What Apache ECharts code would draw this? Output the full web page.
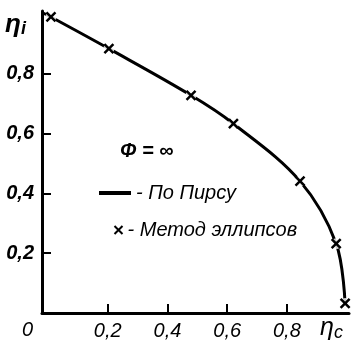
<!DOCTYPE html>
<html>
<head>
<meta charset="utf-8">
<script src="https://cdn.jsdelivr.net/npm/echarts@6/dist/echarts.min.js"></script>
<style>
  html, body { margin: 0; padding: 0; background: #fff; }
  #chart { width: 352px; height: 342px; }
</style>
</head>
<body>
<div id="chart"></div>
<script>
// Pearson curve (line) and ellipse method points (crosses)
const curveX = [-0.02, 0.01, 0.204, 0.479, 0.621, 0.844, 0.965, 0.995];
const curveY = [1.005, 0.99, 0.884, 0.728, 0.633, 0.441, 0.232, 0.03];
const markX = [0.01, 0.204, 0.479, 0.621, 0.844, 0.965, 0.995];
const markY = [0.99, 0.884, 0.728, 0.633, 0.441, 0.232, 0.032];
const tickValues = [0.2, 0.4, 0.6, 0.8];

const crossPath = "path://M0,0L10,10M10,0L0,10";
const fontFam = "Liberation Sans";

const chart = echarts.init(document.getElementById("chart"));

const fmt = (v) => String(v).replace(".", ",");

chart.setOption({
    animation: false,
    backgroundColor: "#fff",
    grid: { left: 42, right: 3, top: 11, bottom: 29 },
    xAxis: {
        type: "value",
        min: -0.02,
        max: 1.008,
        axisLine: { show: true, onZero: false, lineStyle: { color: "#000", width: 3 } },
        axisTick: { show: true, inside: true, length: 9, customValues: tickValues, lineStyle: { color: "#000", width: 2 } },
        axisLabel: {
            customValues: tickValues, formatter: fmt, margin: 8,
            color: "#000", fontSize: 20, fontStyle: "italic", fontFamily: fontFam
        },
        splitLine: { show: false }
    },
    yAxis: {
        type: "value",
        min: 0,
        max: 1.01,
        axisLine: { show: true, onZero: false, lineStyle: { color: "#000", width: 3 } },
        axisTick: { show: true, inside: true, length: 9, customValues: tickValues, lineStyle: { color: "#000", width: 2 } },
        axisLabel: {
            customValues: tickValues, formatter: fmt, margin: 8,
            color: "#000", fontSize: 20, fontStyle: "italic", fontWeight: "bold", fontFamily: fontFam
        },
        splitLine: { show: false }
    },
    legend: [
        {
            left: 94, top: 178,
            data: ["По Пирсу"],
            icon: "rect",
            itemWidth: 32, itemHeight: 4,
            formatter: "- {name}",
            itemStyle: { color: "#000", borderWidth: 0 },
            textStyle: { color: "#000", fontSize: 20, fontStyle: "italic", fontFamily: fontFam }
        },
        {
            left: 107, top: 215,
            data: ["Метод эллипсов"],
            icon: crossPath,
            itemWidth: 8, itemHeight: 8,
            formatter: "- {name}",
            itemStyle: { color: "none", borderColor: "#000", borderWidth: 2 },
            textStyle: { color: "#000", fontSize: 20, fontStyle: "italic", fontFamily: fontFam }
        }
    ],
    graphic: [
        {
            type: "text", left: 5, top: 12,
            style: {
                text: "{a|η}{b|i}", fill: "#000",
                rich: {
                    a: { font: "italic bold 26px " + fontFam },
                    b: { font: "italic bold 18px " + fontFam, padding: [8, 0, 0, 0] }
                }
            }
        },
        { type: "text", left: 22, top: 320, style: { text: "0", fill: "#000", font: "italic 20px " + fontFam } },
        {
            type: "text", left: 320, top: 316,
            style: {
                text: "{a|η}{b|c}", fill: "#000",
                rich: {
                    a: { font: "italic 25px " + fontFam },
                    b: { font: "italic 18px " + fontFam, padding: [9, 0, 0, 0] }
                }
            }
        },
        { type: "text", left: 120, top: 141, style: { text: "Φ = ∞", fill: "#000", font: "italic bold 20px " + fontFam } }
    ],
    series: [
        {
            name: "По Пирсу",
            type: "line",
            data: curveX.map((x, i) => [x, curveY[i]]),
            smooth: 0.35,
            showSymbol: false,
            lineStyle: { color: "#000", width: 3 },
            z: 2
        },
        {
            // white halo that breaks the line around each cross
            name: "gap",
            type: "scatter",
            data: markX.map((x, i) => [x, markY[i]]),
            symbol: "circle",
            symbolSize: 11,
            itemStyle: { color: "#fff" },
            silent: true,
            z: 3
        },
        {
            name: "Метод эллипсов",
            type: "scatter",
            data: markX.map((x, i) => [x, markY[i]]),
            symbol: crossPath,
            symbolSize: 9,
            itemStyle: { color: "none", borderColor: "#000", borderWidth: 2.5, opacity: 1 },
            z: 4
        }
    ]
});
</script>
</body>
</html>
